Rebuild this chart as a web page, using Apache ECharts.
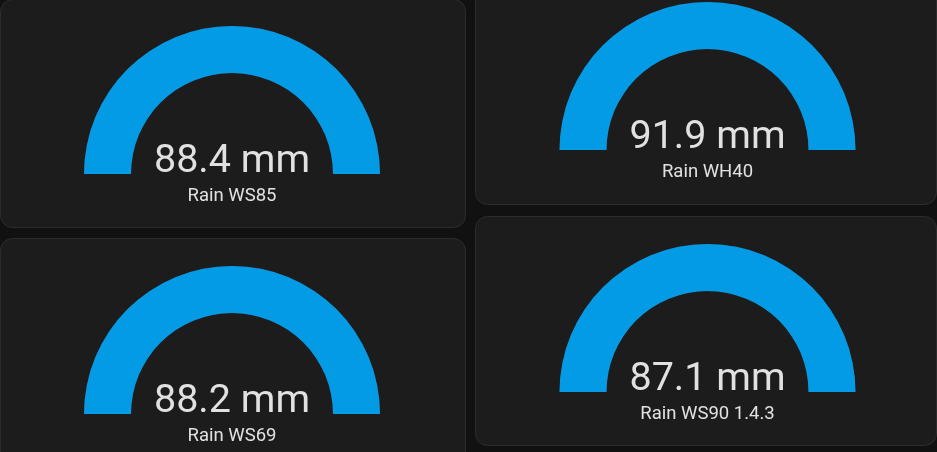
<!DOCTYPE html>
<html>
<head>
<meta charset="utf-8">
<script src="https://cdn.jsdelivr.net/npm/echarts@6/dist/echarts.min.js"></script>
<style>
html,body{margin:0;padding:0;background:#111111;}
#chart{width:937px;height:452px;}
</style>
</head>
<body>
<div id="chart"></div>
<script>
// Data
const sensorNames = ['Rain WS85', 'Rain WH40', 'Rain WS69', 'Rain WS90 1.4.3'];
const rainValues = [88.4, 91.9, 88.2, 87.1];
const unit = 'mm';
const gaugeMin = 0;
const gaugeMax = 80;

// Layout
const cards = [
  {x: 0, y: -1, w: 465, h: 228},
  {x: 475, y: -40, w: 461, h: 244},
  {x: 0, y: 238, w: 465, h: 260},
  {x: 475, y: 216, w: 461, h: 229}
];
const centers = [[232, 174], [707.5, 150], [232, 414], [707.5, 392]];

const chart = echarts.init(document.getElementById('chart'), null, {renderer: 'canvas'});

const graphics = cards.map(c => ({
  type: 'rect',
  z: -10,
  shape: {x: c.x + 0.5, y: c.y + 0.5, width: c.w, height: c.h, r: 12},
  style: {fill: '#1c1c1c', stroke: '#2c2c2c', lineWidth: 1}
}));

const series = rainValues.map((v, i) => ({
  type: 'gauge',
  center: centers[i],
  radius: 148,
  startAngle: 180,
  endAngle: 0,
  min: gaugeMin,
  max: gaugeMax,
  splitNumber: 1,
  progress: {show: true, width: 47, itemStyle: {color: '#039be5'}},
  axisLine: {lineStyle: {width: 47, color: [[1, '#3a3a3a']]}},
  pointer: {show: false},
  anchor: {show: false},
  axisTick: {show: false},
  splitLine: {show: false},
  axisLabel: {show: false},
  title: {
    offsetCenter: [0, 22],
    fontSize: 18.5,
    color: '#e1e1e1',
    fontFamily: 'Roboto'
  },
  detail: {
    valueAnimation: false,
    offsetCenter: [0, -12],
    fontSize: 39.5,
    fontWeight: 'normal',
    color: '#e1e1e1',
    fontFamily: 'Roboto',
    formatter: val => val.toFixed(1) + ' ' + unit
  },
  data: [{value: v, name: sensorNames[i]}]
}));

chart.setOption({
  backgroundColor: '#111111',
  animation: false,
  graphic: graphics,
  series: series
});
</script>
</body>
</html>
